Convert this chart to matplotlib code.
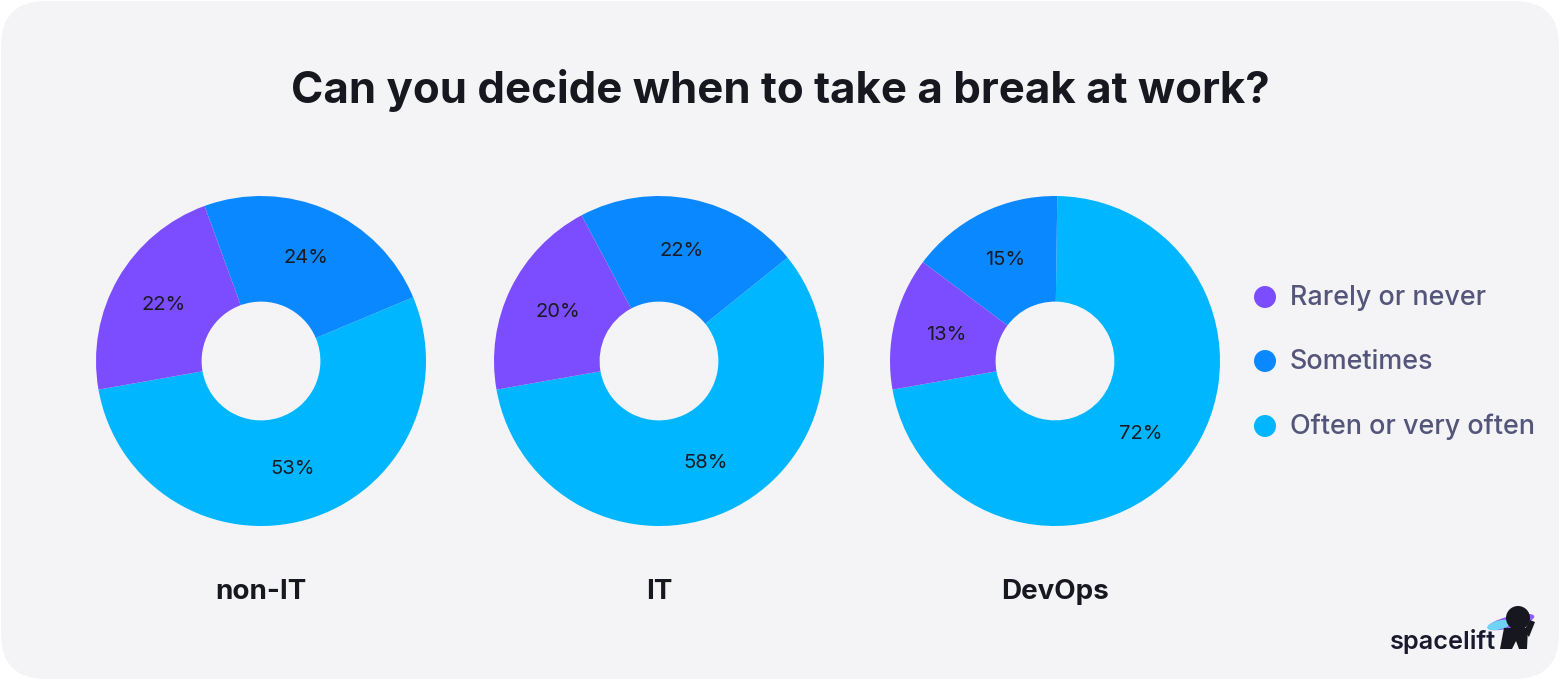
import matplotlib
matplotlib.use("Agg")
import matplotlib.pyplot as plt
from matplotlib.patches import FancyBboxPatch, Circle, Ellipse, Polygon

plt.rcParams['font.family'] = ['Inter', 'DejaVu Sans']

# data
title = "Can you decide when to take a break at work?"
groups = ["non-IT", "IT", "DevOps"]
answers = ["Rarely or never", "Sometimes", "Often or very often"]
rarely = [22, 20, 13]
sometimes = [24, 22, 15]
often = [53, 58, 72]
colors = ["#7C4DFF", "#0A88FF", "#00B6FF"]

W, H = 1560, 680
fig = plt.figure(figsize=(W / 100, H / 100), dpi=100, facecolor="white")

# card background, pixel coordinates (y up)
bg = fig.add_axes([0, 0, 1, 1])
bg.set_xlim(0, W)
bg.set_ylim(0, H)
bg.axis("off")
bg.add_patch(FancyBboxPatch((1, 1), W - 2, H - 2, boxstyle="round,pad=0,rounding_size=45",
                            fc="#F4F4F7", ec="none"))

bg.text(W / 2, H - 91, title, ha="center", va="center", fontsize=31.5,
        fontweight="bold", color="#17171F")

centers_x = [261, 659, 1055]
cy = 680 - 361
R = 165
for i in range(len(groups)):
    cx = centers_x[i]
    ax = fig.add_axes([(cx - R) / W, (cy - R) / H, 2 * R / W, 2 * R / H])
    vals = [often[i], sometimes[i], rarely[i]]
    wedges, texts = ax.pie(vals, colors=[colors[2], colors[1], colors[0]],
                           startangle=190, counterclock=True, radius=1,
                           wedgeprops=dict(width=0.64, linewidth=0),
                           labels=[f"{v}%" for v in vals], labeldistance=0.68,
                           textprops=dict(fontsize=14.5, color="#1A1A22", ha="center", va="center"))
    ax.set_xlim(-1, 1)
    ax.set_ylim(-1, 1)
    ax.set_aspect("equal")
    ax.axis("off")
    bg.text(cx, 680 - 592, groups[i], ha="center", va="center", fontsize=20,
            fontweight="bold", color="#17171F")

# legend
leg_y = [297, 361, 426]
for j in range(len(answers)):
    y = 680 - leg_y[j]
    bg.add_patch(Circle((1265, y), 11, fc=colors[j], ec="none"))
    bg.text(1290, y - 1, answers[j], ha="left", va="center", fontsize=19.4,
            fontweight="medium", color="#54557A")

# spacelift logo
bg.text(1390, 680 - 641, "spacelift", ha="left", va="center", fontsize=18.2,
        fontweight="semibold", color="#1A1A2E")
bg.add_patch(Ellipse((1511, 680 - 622), 48, 12, angle=14, fc="#8E5CF7", ec="none"))
bg.add_patch(Ellipse((1499, 680 - 625), 24, 9, angle=14, fc="#6FD3F5", ec="none"))
bg.add_patch(Circle((1518, 680 - 618), 12, fc="#17171F", ec="none"))
bg.add_patch(Polygon([(1504, 680 - 628), (1528, 680 - 628), (1527, 680 - 649),
                      (1519, 680 - 649), (1516, 680 - 641), (1512, 680 - 649),
                      (1500, 680 - 649)], closed=True, fc="#17171F", ec="none"))
bg.add_patch(Polygon([(1524, 680 - 631), (1530, 680 - 620), (1535, 680 - 622),
                      (1529, 680 - 637)], closed=True, fc="#17171F", ec="none"))

fig.savefig("out.png", dpi=100, facecolor="white")
